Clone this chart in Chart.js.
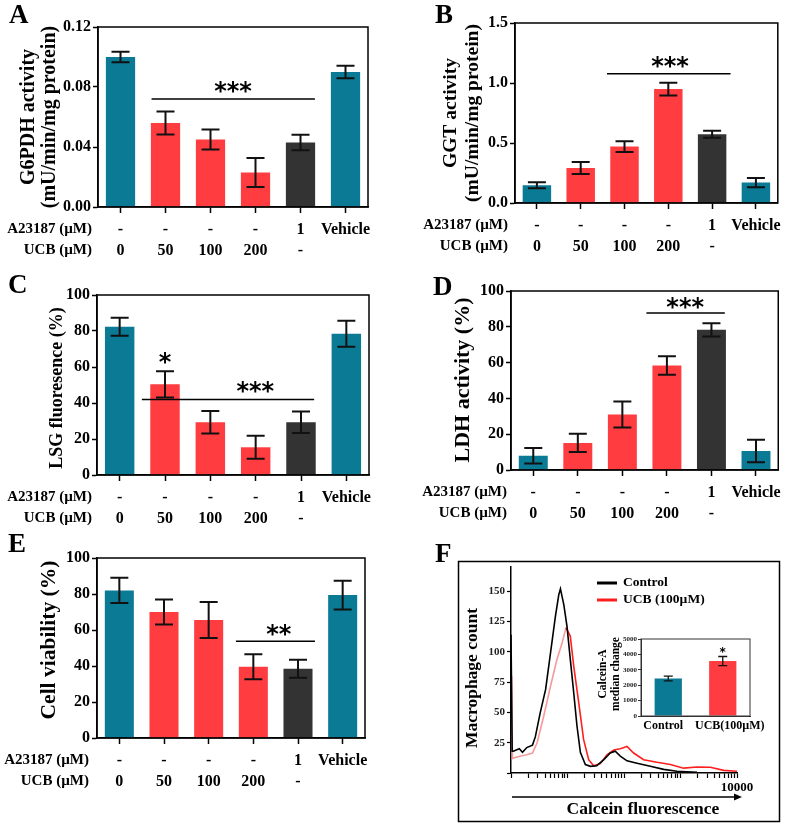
<!DOCTYPE html>
<html>
<head>
<meta charset="utf-8">
<script src="https://cdn.jsdelivr.net/npm/chart.js@4.4.1/dist/chart.umd.min.js"></script>
<style>
  body { margin: 0; background: #fff; }
  #fig { position: relative; width: 787px; height: 825px; background: #fff; }
  canvas { position: absolute; }
</style>
</head>
<body>
<div id="fig">
  <canvas id="pA" width="390" height="270" style="left:0;top:0"></canvas>
  <canvas id="pB" width="397" height="270" style="left:390px;top:0"></canvas>
  <canvas id="pC" width="390" height="270" style="left:0;top:270px"></canvas>
  <canvas id="pD" width="397" height="270" style="left:390px;top:270px"></canvas>
  <canvas id="pE" width="390" height="297" style="left:0;top:528px"></canvas>
  <canvas id="pF" width="397" height="285" style="left:390px;top:540px"></canvas>
  <canvas id="pInset" width="180" height="110" style="left:590px;top:625px"></canvas>
</div>
<script>
const SERIF = '"Liberation Serif", "Times New Roman", serif';

// x-axis rows shared by panels A-E
const a23187Row = ['-', '-', '-', '-', '1', 'Vehicle'];
const ucbRow = ['0', '50', '100', '200', '-', ''];
const groupColors = ['#0b7a95', '#ff3c40', '#ff3c40', '#ff3c40', '#333333', '#0b7a95'];

// A - G6PDH activity
const g6pdhMean = [0.100, 0.056, 0.045, 0.023, 0.043, 0.090];
const g6pdhErr = [0.0035, 0.0076, 0.0066, 0.0097, 0.0052, 0.0042];
// B - GGT activity
const ggtMean = [0.147, 0.292, 0.470, 0.949, 0.573, 0.170];
const ggtErr = [0.025, 0.050, 0.045, 0.053, 0.030, 0.039];
// C - LSG fluorescence
const lsgMean = [82.4, 50.4, 29.3, 15.4, 29.3, 78.5];
const lsgErr = [5.0, 7.3, 6.3, 6.4, 6.0, 7.2];
// D - LDH activity
const ldhMean = [8.0, 15.1, 31.0, 58.4, 78.3, 10.6];
const ldhErr = [4.3, 5.1, 7.2, 5.2, 3.7, 6.3];
// E - cell viability
const viabMean = [82.0, 70.0, 65.6, 39.6, 38.5, 79.4];
const viabErr = [7.0, 7.0, 10.0, 6.9, 5.0, 8.0];

// F - calcein histogram
const ctrlFluor = [1.0, 1.05, 1.1, 1.4, 1.6, 1.9, 2.4, 2.7, 3.3, 4.1, 5.0, 6.1, 7.0, 7.5, 8.6, 9.8, 11.2, 12.9, 14.7, 16.9, 20.7, 25.4, 33, 44, 57, 70, 86, 113, 170, 292, 504, 867, 1959];
const ctrlCount = [114, 18, 18, 20, 17, 21, 23, 30, 50, 69, 99, 129, 147, 152, 139, 121, 94, 66, 39, 17, 7, 5.5, 6, 11, 16.5, 18, 14, 10, 8, 5.5, 3, 1.5, 0.5];
const ucbFluor = [1.03, 1.06, 1.1, 1.5, 1.9, 2.4, 2.9, 3.8, 5.0, 6.5, 8.0, 9.4, 11.2, 12.9, 15.8, 19.3, 23.7, 29, 38, 50, 66, 86, 100, 113, 148, 223, 384, 661, 1138, 1959, 3373, 5806, 10000];
const ucbCount = [80, 12, 12.4, 14, 15, 16.5, 25, 47, 71.6, 93.6, 107, 120, 113, 88, 58, 27.5, 11, 6, 7.7, 15, 19, 20, 21, 22, 16.5, 11, 8.8, 7, 4, 5, 4.7, 2.2, 1.4];

// F inset
const insetLabels = ['Control', 'UCB(100\u00b5M)'];
const calceinMean = [2435, 3565];
const calceinErr = [160, 300];
const insetColors = ['#0b7a95', '#ff3c40'];

function drawErrorBars(ctx, x, y, mean, err, cap, lw) {
  ctx.strokeStyle = '#111';
  ctx.lineWidth = lw;
  mean.forEach((m, i) => {
    const px = x.getPixelForValue(i);
    const top = y.getPixelForValue(m + err[i]);
    const bot = y.getPixelForValue(m - err[i]);
    ctx.beginPath();
    ctx.moveTo(px, top); ctx.lineTo(px, bot);
    ctx.moveTo(px - cap / 2, top); ctx.lineTo(px + cap / 2, top);
    ctx.moveTo(px - cap / 2, bot); ctx.lineTo(px + cap / 2, bot);
    ctx.stroke();
  });
}

function rotatedText(ctx, text, x, y, font) {
  ctx.save();
  ctx.translate(x, y);
  ctx.rotate(-Math.PI / 2);
  ctx.font = font;
  ctx.fillStyle = '#000';
  ctx.textAlign = 'center';
  ctx.textBaseline = 'middle';
  ctx.fillText(text, 0, 0);
  ctx.restore();
}

function drawStars(ctx, x, y, stars, size) {
  ctx.font = 'bold ' + size + 'px "DejaVu Sans"';
  ctx.fillStyle = '#000';
  ctx.textAlign = 'center';
  ctx.textBaseline = 'alphabetic';
  stars.forEach(s => {
    ctx.fillText(s.t, x.getPixelForValue(s.x), y.getPixelForValue(s.y) + size * 0.55);
  });
}

function decor(spec) {
  return {
    id: 'decor',
    afterDraw(chart) {
      const { ctx, chartArea: a, scales: { x, y } } = chart;
      ctx.save();
      // box round the plot
      ctx.strokeStyle = '#000';
      ctx.lineWidth = 1.5;
      ctx.strokeRect(a.left, a.top, a.right - a.left, a.bottom - a.top);

      drawErrorBars(ctx, x, y, spec.mean, spec.err, 18, 2);

      // significance lines
      ctx.lineWidth = 1.5;
      ctx.strokeStyle = '#000';
      spec.sig.forEach(s => {
        const py = y.getPixelForValue(s.at);
        ctx.beginPath();
        ctx.moveTo(x.getPixelForValue(s.from), py);
        ctx.lineTo(x.getPixelForValue(s.to), py);
        ctx.stroke();
      });
      drawStars(ctx, x, y, spec.stars, 24);

      // y title
      spec.yTitle.forEach(t => rotatedText(ctx, t.t, t.x, spec.yTitleY, 'bold ' + spec.titleSize + 'px ' + SERIF));

      // row headers beside the category labels
      ctx.font = 'bold 15px ' + SERIF;
      ctx.fillStyle = '#000';
      ctx.textAlign = 'right';
      ctx.textBaseline = 'middle';
      const row1 = a.bottom + 22.5;
      ctx.fillText('A23187 (\u00b5M)', spec.rowX, row1);
      ctx.fillText('UCB (\u00b5M)', spec.rowX, row1 + 21);

      // panel letter
      ctx.font = 'bold 27px ' + SERIF;
      ctx.textAlign = 'left';
      ctx.textBaseline = 'alphabetic';
      ctx.fillText(spec.letter, spec.lx, spec.ly);
      ctx.restore();
    }
  };
}

function barPanel(id, spec) {
  const labels = a23187Row.map((a, i) => [a, ucbRow[i]]);
  const tickFont = { family: SERIF, size: 16, weight: 'bold', lineHeight: 1.3125 };
  return new Chart(document.getElementById(id), {
    type: 'bar',
    data: {
      labels,
      datasets: [{
        data: spec.mean,
        backgroundColor: groupColors,
        barPercentage: 0.65,
        categoryPercentage: 1
      }]
    },
    options: {
      responsive: false,
      animation: false,
      devicePixelRatio: 1,
      layout: { padding: spec.pad },
      plugins: { legend: { display: false }, tooltip: { enabled: false } },
      scales: {
        x: {
          grid: { offset: false, drawOnChartArea: false, tickLength: 6, tickColor: '#000', tickWidth: 1.5 },
          border: { color: '#000', width: 1.5 },
          ticks: { color: '#000', font: tickFont, padding: 6, maxRotation: 0, autoSkip: false },
          afterFit: s => { s.height = 60; }
        },
        y: {
          min: 0,
          max: spec.max,
          grid: { drawOnChartArea: false, tickLength: 5, tickColor: '#000', tickWidth: 1.5 },
          border: { color: '#000', width: 1.5 },
          ticks: {
            stepSize: spec.step,
            color: '#000',
            font: { family: SERIF, size: 16, weight: 'bold' },
            padding: 2,
            callback: v => v.toFixed(spec.dec)
          },
          afterFit: s => { s.width = 45; }
        }
      }
    },
    plugins: [decor(spec)]
  });
}

barPanel('pA', {
  mean: g6pdhMean, err: g6pdhErr, max: 0.12, step: 0.04, dec: 2,
  pad: { left: 53, right: 22, top: 27, bottom: 3 },
  yTitle: [{ t: 'G6PDH activity', x: 29 }, { t: '(mU/min/mg protein)', x: 50 }], yTitleY: 117, titleSize: 20,
  rowX: 92, letter: 'A', lx: 9, ly: 23,
  sig: [{ from: 0.69, to: 4.32, at: 0.072 }],
  stars: [{ t: '***', x: 2.5, y: 0.081 }]
});

barPanel('pB', {
  mean: ggtMean, err: ggtErr, max: 1.5, step: 0.5, dec: 1,
  pad: { left: 80, right: 6, top: 23, bottom: 7 },
  yTitle: [{ t: 'GGT activity', x: 61 }, { t: '(mU/min/mg protein)', x: 83 }], yTitleY: 113, titleSize: 19.5,
  rowX: 118, letter: 'B', lx: 45, ly: 23,
  sig: [{ from: 1.6, to: 4.42, at: 1.077 }],
  stars: [{ t: '***', x: 3.04, y: 1.183 }]
});

barPanel('pC', {
  mean: lsgMean, err: lsgErr, max: 100, step: 20, dec: 0,
  pad: { left: 52, right: 21, top: 25, bottom: 5 },
  yTitle: [{ t: 'LSG fluoresence (%)', x: 57 }], yTitleY: 118, titleSize: 18,
  rowX: 92, letter: 'C', lx: 8, ly: 23,
  sig: [{ from: 0.49, to: 4.29, at: 42 }],
  stars: [{ t: '***', x: 2.99, y: 49.4 }, { t: '*', x: 1, y: 65.5 }]
});

barPanel('pD', {
  mean: ldhMean, err: ldhErr, max: 100, step: 20, dec: 0,
  pad: { left: 76, right: 5, top: 21, bottom: 10 },
  yTitle: [{ t: 'LDH activity (%)', x: 73 }], yTitleY: 110, titleSize: 22,
  rowX: 117, letter: 'D', lx: 43, ly: 25,
  sig: [{ from: 2.54, to: 4.3, at: 87.7 }],
  stars: [{ t: '***', x: 3.41, y: 93.8 }]
});

barPanel('pE', {
  mean: viabMean, err: viabErr, max: 100, step: 20, dec: 0,
  pad: { left: 52, right: 25, top: 30, bottom: 27 },
  yTitle: [{ t: 'Cell viability (%)', x: 49 }], yTitleY: 112, titleSize: 21.5,
  rowX: 89, letter: 'E', lx: 8, ly: 24,
  sig: [{ from: 2.61, to: 4.38, at: 53.7 }],
  stars: [{ t: '**', x: 3.57, y: 60.6 }]
});

// ---- panel F: histogram ----
const logTicks = [];
for (let e = 0; e < 4; e++) {
  for (let m = 1; m < 10; m++) logTicks.push(m * Math.pow(10, e));
}
logTicks.push(10000);

const histDecor = {
  id: 'histDecor',
  afterDraw(chart) {
    const { ctx } = chart;
    ctx.save();
    ctx.strokeStyle = '#000';
    ctx.lineWidth = 1.5;
    ctx.strokeRect(68.5, 21.5, 321, 260);

    // legend
    const legend = [['Control', '#000', 43], ['UCB (100\u00b5M)', '#ff1f1f', 60]];
    ctx.font = 'bold 13.5px ' + SERIF;
    ctx.textAlign = 'left';
    ctx.textBaseline = 'middle';
    legend.forEach(([t, c, ly]) => {
      ctx.strokeStyle = c;
      ctx.lineWidth = 3;
      ctx.beginPath();
      ctx.moveTo(207, ly); ctx.lineTo(227, ly);
      ctx.stroke();
      ctx.fillStyle = '#000';
      ctx.fillText(t, 233, ly);
    });

    // arrow and axis title
    ctx.strokeStyle = '#000';
    ctx.fillStyle = '#000';
    ctx.lineWidth = 1.5;
    ctx.beginPath();
    ctx.moveTo(122, 257); ctx.lineTo(346, 257);
    ctx.stroke();
    ctx.beginPath();
    ctx.moveTo(352, 257); ctx.lineTo(344, 253.5); ctx.lineTo(344, 260.5);
    ctx.closePath();
    ctx.fill();
    ctx.font = 'bold 17.5px ' + SERIF;
    ctx.textAlign = 'center';
    ctx.textBaseline = 'middle';
    ctx.fillText('Calcein fluorescence', 253, 269);

    rotatedText(ctx, 'Macrophage count', 82, 138, 'bold 17.5px ' + SERIF);

    ctx.font = 'bold 27px ' + SERIF;
    ctx.textAlign = 'left';
    ctx.textBaseline = 'alphabetic';
    ctx.fillText('F', 45, 22);
    ctx.restore();
  }
};

new Chart(document.getElementById('pF'), {
  type: 'line',
  data: {
    datasets: [
      {
        label: 'Control',
        data: ctrlFluor.map((v, i) => ({ x: v, y: ctrlCount[i] })),
        borderColor: '#000',
        borderWidth: 1.6,
        pointRadius: 0,
        tension: 0
      },
      {
        label: 'UCB (100\u00b5M)',
        data: ucbFluor.map((v, i) => ({ x: v, y: ucbCount[i] })),
        borderColor: '#ff1f1f',
        borderWidth: 1.6,
        pointRadius: 0,
        tension: 0,
        segment: { borderColor: c => (c.p1.parsed.x <= 9.4 ? '#f79a9c' : '#ff1f1f') }
      }
    ]
  },
  options: {
    responsive: false,
    animation: false,
    devicePixelRatio: 1,
    layout: { padding: { left: 81, right: 50, top: 27, bottom: 17 } },
    plugins: { legend: { display: false }, tooltip: { enabled: false } },
    scales: {
      x: {
        type: 'logarithmic',
        min: 1,
        max: 10000,
        afterBuildTicks: s => { s.ticks = logTicks.map(v => ({ value: v })); },
        grid: { drawOnChartArea: false, tickLength: 5, tickColor: '#000', tickWidth: 1.2 },
        border: { color: '#000', width: 1.5 },
        ticks: {
          color: '#000',
          font: { family: SERIF, size: 13, weight: 'bold' },
          padding: 2,
          autoSkip: false,
          maxRotation: 0,
          callback: v => (v === 10000 ? '10000' : '')
        },
        afterFit: s => { s.height = 35; }
      },
      y: {
        min: 0,
        max: 170,
        grid: { drawOnChartArea: false, tickLength: 4, tickColor: '#000', tickWidth: 1.2 },
        border: { color: '#000', width: 1.5 },
        ticks: {
          stepSize: 25,
          includeBounds: false,
          color: '#222',
          font: { family: SERIF, size: 11, weight: 'bold' },
          padding: 2,
          callback: v => (v === 0 ? '' : v)
        },
        afterFit: s => { s.width = 40; }
      }
    }
  },
  plugins: [histDecor]
});

// ---- inset bar chart ----
const insetLabelShift = [-5, 7];
const insetDecor = {
  id: 'insetDecor',
  afterDraw(chart) {
    const { ctx, chartArea: a, scales: { x, y } } = chart;
    ctx.save();
    ctx.strokeStyle = '#333';
    ctx.lineWidth = 1;
    ctx.strokeRect(a.left, a.top, a.right - a.left, a.bottom - a.top);
    drawErrorBars(ctx, x, y, calceinMean, calceinErr, 9, 1.3);
    drawStars(ctx, x, y, [{ t: '*', x: 1, y: 4300 }], 12);
    rotatedText(ctx, 'Calcein-A', 13, 49, 'bold 11.5px ' + SERIF);
    rotatedText(ctx, 'median change', 26, 49, 'bold 11.5px ' + SERIF);
    // category labels, nudged apart as in the figure
    ctx.font = 'bold 12px ' + SERIF;
    ctx.fillStyle = '#000';
    ctx.textAlign = 'center';
    ctx.textBaseline = 'middle';
    insetLabels.forEach((t, i) => ctx.fillText(t, x.getPixelForValue(i) + insetLabelShift[i], a.bottom + 10));
    ctx.restore();
  }
};

new Chart(document.getElementById('pInset'), {
  type: 'bar',
  data: {
    labels: insetLabels,
    datasets: [{
      data: calceinMean,
      backgroundColor: insetColors,
      barPercentage: 0.5,
      categoryPercentage: 1
    }]
  },
  options: {
    responsive: false,
    animation: false,
    devicePixelRatio: 1,
    layout: { padding: { left: 21, right: 20, top: 14, bottom: 1 } },
    plugins: { legend: { display: false }, tooltip: { enabled: false } },
    scales: {
      x: {
        grid: { display: false, drawTicks: false },
        border: { color: '#333', width: 1 },
        ticks: { display: false },
        afterFit: s => { s.height = 18; }
      },
      y: {
        min: 0,
        max: 5000,
        grid: { drawOnChartArea: false, tickLength: 3, tickColor: '#333' },
        border: { color: '#333', width: 1 },
        ticks: {
          stepSize: 1000,
          color: '#222',
          font: { family: SERIF, size: 7, weight: 'bold' },
          padding: 1,
          callback: v => String(v)
        },
        afterFit: s => { s.width = 30; }
      }
    }
  },
  plugins: [insetDecor]
});
</script>
</body>
</html>
